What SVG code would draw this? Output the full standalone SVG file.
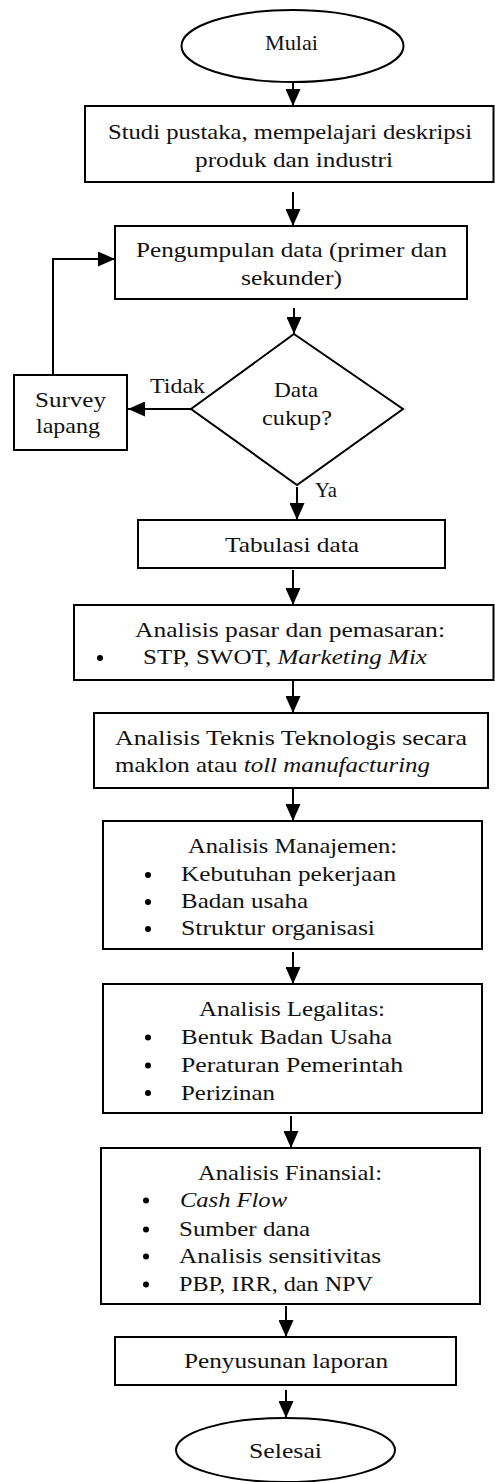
<svg xmlns="http://www.w3.org/2000/svg" width="495" height="1482" viewBox="0 0 495 1482">
<style>
.n{fill:#fff;stroke:#000;stroke-width:2}
.t{font-family:"Liberation Serif","DejaVu Serif",serif;font-size:22px;fill:#111}
.i{font-style:italic}
.c{fill:none;stroke:#000;stroke-width:2}
.b{fill:#000}
</style>
<defs>
<marker id="ah" viewBox="0 0 17 15" markerWidth="17" markerHeight="15" refX="17" refY="7.5" orient="auto" markerUnits="userSpaceOnUse">
<path d="M0,0 L17,7.5 L0,15 z" fill="#000"/>
</marker>
</defs>
<rect width="495" height="1482" fill="#fff"/>
<g id="connectors">
<line class="c" x1="293" y1="82" x2="293" y2="106" marker-end="url(#ah)"/>
<line class="c" x1="293" y1="192" x2="293" y2="226" marker-end="url(#ah)"/>
<line class="c" x1="294" y1="308" x2="294" y2="334" marker-end="url(#ah)"/>
<line class="c" x1="191" y1="409" x2="128" y2="409" marker-end="url(#ah)"/>
<polyline class="c" points="53,375 53,259 115,259" marker-end="url(#ah)"/>
<line class="c" x1="297" y1="487" x2="297" y2="520" marker-end="url(#ah)"/>
<line class="c" x1="293" y1="570" x2="293" y2="605" marker-end="url(#ah)"/>
<line class="c" x1="293" y1="680" x2="293" y2="713" marker-end="url(#ah)"/>
<line class="c" x1="293" y1="788" x2="293" y2="821" marker-end="url(#ah)"/>
<line class="c" x1="293" y1="952" x2="293" y2="984" marker-end="url(#ah)"/>
<line class="c" x1="291" y1="1116" x2="291" y2="1148" marker-end="url(#ah)"/>
<line class="c" x1="286" y1="1306" x2="286" y2="1337" marker-end="url(#ah)"/>
<line class="c" x1="286" y1="1390" x2="286" y2="1418" marker-end="url(#ah)"/>
<text class="t" x="150" y="393" textLength="55" lengthAdjust="spacingAndGlyphs">Tidak</text>
<text class="t" x="315" y="497" textLength="22" lengthAdjust="spacingAndGlyphs">Ya</text>
</g>
<g id="mulai">
<ellipse class="n" cx="292.5" cy="46" rx="111" ry="36"/>
<text class="t" x="265" y="50" textLength="53" lengthAdjust="spacingAndGlyphs">Mulai</text>
</g>
<g id="studi">
<rect class="n" x="85" y="106" width="408.5" height="76"/>
<text class="t" x="108" y="139" textLength="364" lengthAdjust="spacingAndGlyphs">Studi pustaka, mempelajari deskripsi</text>
<text class="t" x="195" y="167" textLength="198" lengthAdjust="spacingAndGlyphs">produk dan industri</text>
</g>
<g id="pengumpulan">
<rect class="n" x="115" y="226" width="352" height="73"/>
<text class="t" x="136" y="257" textLength="311" lengthAdjust="spacingAndGlyphs">Pengumpulan data (primer dan</text>
<text class="t" x="241" y="285" textLength="101" lengthAdjust="spacingAndGlyphs">sekunder)</text>
</g>
<g id="datacukup">
<polygon class="n" points="294,334 403,409 297,485 191,409"/>
<text class="t" x="274" y="397" textLength="44" lengthAdjust="spacingAndGlyphs">Data</text>
<text class="t" x="262" y="425" textLength="70" lengthAdjust="spacingAndGlyphs">cukup?</text>
</g>
<g id="survey">
<rect class="n" x="14" y="375" width="113" height="75"/>
<text class="t" x="35" y="407" textLength="71" lengthAdjust="spacingAndGlyphs">Survey</text>
<text class="t" x="36" y="433" textLength="64" lengthAdjust="spacingAndGlyphs">lapang</text>
</g>
<g id="tabulasi">
<rect class="n" x="138" y="520" width="307" height="48"/>
<text class="t" x="225" y="552" textLength="134" lengthAdjust="spacingAndGlyphs">Tabulasi data</text>
</g>
<g id="pasar">
<rect class="n" x="74" y="605" width="419.5" height="75"/>
<text class="t" x="135" y="637" textLength="310" lengthAdjust="spacingAndGlyphs">Analisis pasar dan pemasaran:</text>
<circle class="b" cx="100" cy="658" r="3"/>
<text class="t" x="143" y="664" textLength="284" lengthAdjust="spacingAndGlyphs">STP, SWOT, <tspan class="i">Marketing Mix</tspan></text>
</g>
<g id="teknis">
<rect class="n" x="94" y="713" width="394" height="75"/>
<text class="t" x="115" y="745" textLength="352" lengthAdjust="spacingAndGlyphs">Analisis Teknis Teknologis secara</text>
<text class="t" x="115" y="772" textLength="315" lengthAdjust="spacingAndGlyphs">maklon atau <tspan class="i">toll manufacturing</tspan></text>
</g>
<g id="manajemen">
<rect class="n" x="103" y="821" width="379" height="128"/>
<text class="t" x="188" y="853" textLength="209" lengthAdjust="spacingAndGlyphs">Analisis Manajemen:</text>
<circle class="b" cx="148" cy="875" r="3"/>
<text class="t" x="181" y="881" textLength="215" lengthAdjust="spacingAndGlyphs">Kebutuhan pekerjaan</text>
<circle class="b" cx="148" cy="902" r="3"/>
<text class="t" x="181" y="908" textLength="127" lengthAdjust="spacingAndGlyphs">Badan usaha</text>
<circle class="b" cx="148" cy="929" r="3"/>
<text class="t" x="181" y="935" textLength="194" lengthAdjust="spacingAndGlyphs">Struktur organisasi</text>
</g>
<g id="legalitas">
<rect class="n" x="103" y="984" width="379" height="129"/>
<text class="t" x="199" y="1016" textLength="186" lengthAdjust="spacingAndGlyphs">Analisis Legalitas:</text>
<circle class="b" cx="148" cy="1037.5" r="3"/>
<text class="t" x="181" y="1044" textLength="211" lengthAdjust="spacingAndGlyphs">Bentuk Badan Usaha</text>
<circle class="b" cx="148" cy="1065.5" r="3"/>
<text class="t" x="181" y="1072" textLength="222" lengthAdjust="spacingAndGlyphs">Peraturan Pemerintah</text>
<circle class="b" cx="148" cy="1093" r="3"/>
<text class="t" x="181" y="1099.5" textLength="94" lengthAdjust="spacingAndGlyphs">Perizinan</text>
</g>
<g id="finansial">
<rect class="n" x="101" y="1148" width="379" height="156"/>
<text class="t" x="198" y="1180" textLength="184" lengthAdjust="spacingAndGlyphs">Analisis Finansial:</text>
<circle class="b" cx="146" cy="1200.5" r="3"/>
<text class="t i" x="180" y="1207" textLength="107" lengthAdjust="spacingAndGlyphs">Cash Flow</text>
<circle class="b" cx="146" cy="1229.5" r="3"/>
<text class="t" x="179" y="1236" textLength="131" lengthAdjust="spacingAndGlyphs">Sumber dana</text>
<circle class="b" cx="146" cy="1256.5" r="3"/>
<text class="t" x="179" y="1263" textLength="202" lengthAdjust="spacingAndGlyphs">Analisis sensitivitas</text>
<circle class="b" cx="146" cy="1284.5" r="3"/>
<text class="t" x="179" y="1291" textLength="194" lengthAdjust="spacingAndGlyphs">PBP, IRR, dan NPV</text>
</g>
<g id="penyusunan">
<rect class="n" x="115" y="1337" width="341" height="48"/>
<text class="t" x="184" y="1368" textLength="204" lengthAdjust="spacingAndGlyphs">Penyusunan laporan</text>
</g>
<g id="selesai">
<ellipse class="n" cx="285.5" cy="1450" rx="109.5" ry="32"/>
<text class="t" x="249" y="1458" textLength="73" lengthAdjust="spacingAndGlyphs">Selesai</text>
</g>
</svg>
